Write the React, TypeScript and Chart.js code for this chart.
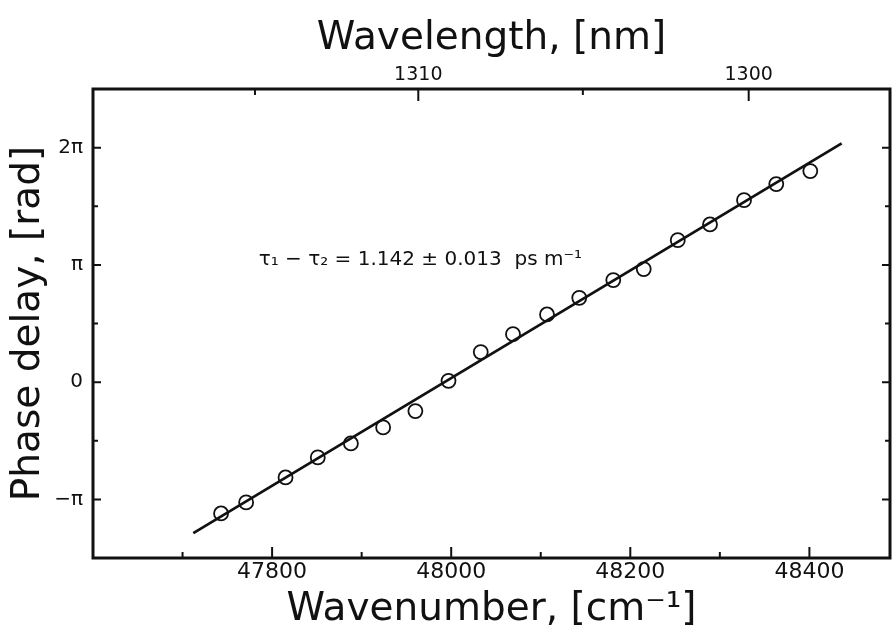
import { useEffect, useRef } from 'react';
import { Chart, registerables } from 'chart.js';

Chart.register(...registerables);

// ---- data ----
const wavenumber = [
  47743, 47771, 47815, 47851, 47888, 47924, 47960, 47997, 48033, 48069,
  48107, 48143, 48181, 48215, 48253, 48289, 48327, 48363, 48401,
];
// phase delay in radians
const phaseDelay = [
  -3.519, -3.223, -2.554, -2.017, -1.643, -1.213, -0.776, 0.035, 0.804, 1.285,
  1.813, 2.259, 2.733, 3.028, 3.804, 4.225, 4.876, 5.306, 5.655,
];
const fitWavenumber = [47712, 48436];
const fitPhase = [-4.046, 6.396];

const wavenumberTicks = [47700, 47800, 47900, 48000, 48100, 48200, 48300, 48400];
const wavenumberLabels = ['', '47800', '', '48000', '', '48200', '', '48400'];
const wavelengthTicks = [1315, 1310, 1305, 1300];
const wavelengthLabels = ['', '1310', '', '1300'];
const phaseTickMultiples = [-1, -0.5, 0, 0.5, 1, 1.5, 2];
const phaseLabels = ['−π', '', '0', '', 'π', '', '2π'];

const annotationText = 'τ₁ − τ₂ = 1.142 ± 0.013  ps m⁻¹';
const annotationAt = { x: 47785, y: 3.27 };

const PI = Math.PI;
const FONT = "'DejaVu Sans', 'Liberation Sans', sans-serif";
const INK = '#111';
const nmToWavenumber = (nm: number) => (2 * PI * 1e7) / nm;

const frameAndTicks = {
  id: 'frameAndTicks',
  afterDatasetsDraw(chart: any) {
    const { ctx, chartArea: a } = chart;
    const x = chart.scales.x;
    const x2 = chart.scales.x2;
    const y = chart.scales.y;
    ctx.save();
    ctx.strokeStyle = INK;
    ctx.lineWidth = 2;
    ctx.beginPath();
    x.ticks.forEach((t: any) => {
      const px = x.getPixelForValue(t.value);
      const len = t.label ? 11 : 6;
      ctx.moveTo(px, a.bottom);
      ctx.lineTo(px, a.bottom - len);
    });
    x2.ticks.forEach((t: any) => {
      const px = x2.getPixelForValue(t.value);
      const len = t.label ? 12 : 6;
      ctx.moveTo(px, a.top);
      ctx.lineTo(px, a.top + len);
    });
    y.ticks.forEach((t: any) => {
      const py = y.getPixelForValue(t.value);
      const len = t.label ? 8 : 5;
      ctx.moveTo(a.left, py);
      ctx.lineTo(a.left + len, py);
      ctx.moveTo(a.right, py);
      ctx.lineTo(a.right - len, py);
    });
    ctx.stroke();
    ctx.lineWidth = 3;
    ctx.strokeRect(a.left, a.top, a.right - a.left, a.bottom - a.top);

    ctx.fillStyle = INK;
    ctx.font = `20px ${FONT}`;
    ctx.textAlign = 'left';
    ctx.textBaseline = 'middle';
    ctx.fillText(
      annotationText,
      x.getPixelForValue(annotationAt.x),
      y.getPixelForValue(annotationAt.y)
    );
    ctx.restore();
  },
};

export default function App() {
  const ref = useRef<HTMLCanvasElement | null>(null);

  useEffect(() => {
    if (!ref.current) return;
    Chart.defaults.font.family = FONT;
    Chart.defaults.color = INK;

    const chart = new Chart(ref.current, {
      type: 'scatter',
      data: {
        datasets: [
          {
            label: 'fit',
            data: fitWavenumber.map((v, i) => ({ x: v, y: fitPhase[i] })),
            showLine: true,
            borderColor: INK,
            borderWidth: 2.8,
            pointRadius: 0,
            pointHoverRadius: 0,
            fill: false,
          },
          {
            label: 'measured',
            data: wavenumber.map((v, i) => ({ x: v, y: phaseDelay[i] })),
            pointStyle: 'circle',
            pointRadius: 7,
            pointHoverRadius: 7,
            pointBorderWidth: 1.8,
            borderColor: INK,
            backgroundColor: 'rgba(0,0,0,0)',
          },
        ],
      },
      options: {
        responsive: false,
        animation: false,
        layout: { autoPadding: false, padding: { left: 0, right: 3, top: 0, bottom: 0 } },
        plugins: {
          legend: { display: false },
          tooltip: { enabled: false },
        },
        scales: {
          x: {
            type: 'linear',
            position: 'bottom',
            min: 47600,
            max: 48490,
            bounds: 'data',
            grid: { display: false, drawTicks: false },
            border: { display: false },
            afterBuildTicks: (s: any) => {
              s.ticks = wavenumberTicks.map((v) => ({ value: v }));
            },
            afterFit: (s: any) => {
              s.height = 68;
              s.paddingLeft = 0;
              s.paddingRight = 0;
            },
            ticks: {
              autoSkip: false,
              maxRotation: 0,
              padding: 3,
              font: { size: 22, lineHeight: 1 },
              color: INK,
              callback: (_v: any, i: number) => wavenumberLabels[i],
            },
            title: {
              display: true,
              text: 'Wavenumber, [cm⁻¹]',
              font: { size: 39, lineHeight: 0.8 },
              color: INK,
              padding: { top: 0, bottom: 1 },
            },
          },
          x2: {
            type: 'linear',
            position: 'top',
            min: 47600,
            max: 48490,
            bounds: 'data',
            grid: { display: false, drawTicks: false },
            border: { display: false },
            afterBuildTicks: (s: any) => {
              s.ticks = wavelengthTicks.map((nm) => ({ value: nmToWavenumber(nm) }));
            },
            afterFit: (s: any) => {
              s.height = 89;
              s.paddingLeft = 0;
              s.paddingRight = 0;
            },
            ticks: {
              autoSkip: false,
              maxRotation: 0,
              padding: 4,
              font: { size: 19, lineHeight: 1 },
              color: INK,
              callback: (_v: any, i: number) => wavelengthLabels[i],
            },
            title: {
              display: true,
              text: 'Wavelength, [nm]',
              font: { size: 39, lineHeight: 1 },
              color: INK,
              padding: { top: 19, bottom: 0 },
            },
          },
          y: {
            type: 'linear',
            position: 'left',
            min: -1.5 * PI,
            max: 2.5 * PI,
            bounds: 'data',
            grid: { display: false, drawTicks: false },
            border: { display: false },
            afterBuildTicks: (s: any) => {
              s.ticks = phaseTickMultiples.map((m) => ({ value: m * PI }));
            },
            afterFit: (s: any) => {
              s.width = 93;
              s.paddingTop = 0;
              s.paddingBottom = 0;
            },
            ticks: {
              autoSkip: false,
              padding: 10,
              font: { size: 20, lineHeight: 1 },
              color: INK,
              callback: (_v: any, i: number) => phaseLabels[i],
            },
            title: {
              display: true,
              text: 'Phase delay, [rad]',
              font: { size: 39, lineHeight: 1 },
              color: INK,
              padding: { top: 9, bottom: 0 },
            },
          },
        },
      },
      plugins: [frameAndTicks],
    } as any);

    return () => chart.destroy();
  }, []);

  return (
    <canvas
      ref={ref}
      width={893}
      height={626}
      style={{ position: 'fixed', left: 0, top: 0, display: 'block', background: '#fff' }}
    />
  );
}
